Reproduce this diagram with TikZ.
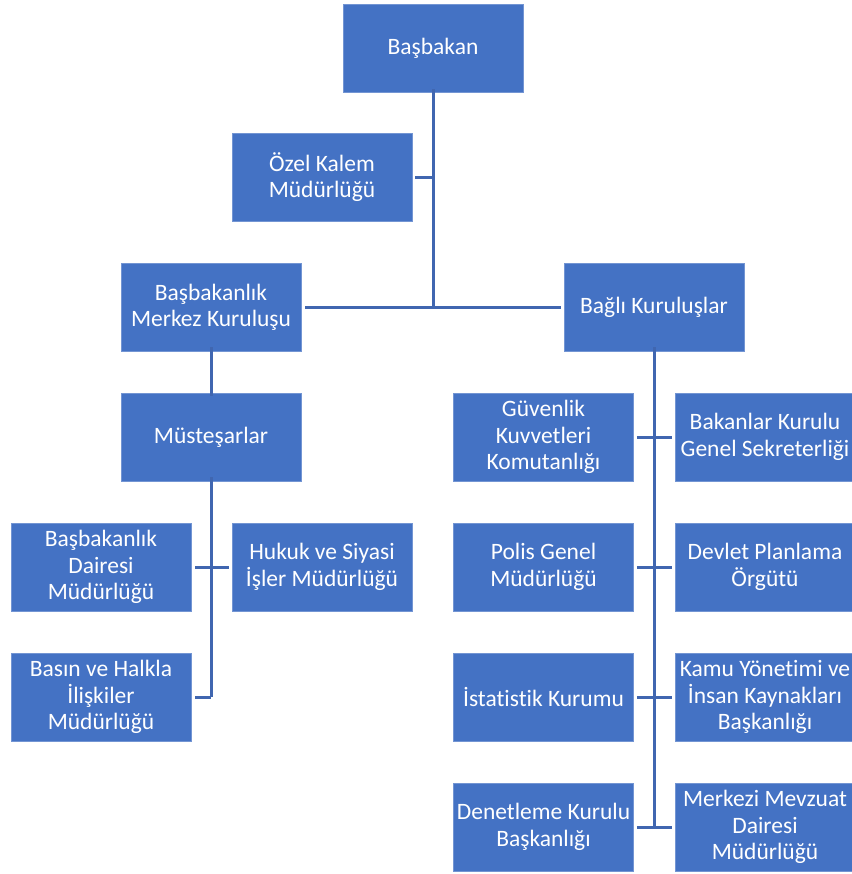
\documentclass[tikz,border=0pt]{standalone}
\usepackage{fontspec}
\setmainfont{Carlito}[Ligatures=NoCommon]
\definecolor{boxblue}{HTML}{4472C4}
\definecolor{lineblue}{HTML}{4066B0}
\tikzset{
  orgbox/.style={rectangle, fill=boxblue, draw=boxblue!75!white, line width=0.6bp,
    minimum width=180bp, minimum height=88bp, inner sep=0pt, text=white, align=center,
    font=\fontsize{23.5bp}{26.3bp}\selectfont},
  conn/.style={draw=lineblue, line width=3bp}
}
\begin{document}
\begin{tikzpicture}[x=1bp,y=-1bp]
\useasboundingbox (0,0) rectangle (852,874);
\clip (0,0) rectangle (852,874);
\fill[white] (0,0) rectangle (852,874);
% nodes (centres)
\node[orgbox] (bas)    at (433,48)  {Başbakan};
\node[orgbox] (ozel)   at (322,177) {Özel Kalem\\Müdürlüğü};
\node[orgbox] (merkez) at (211,307) {Başbakanlık\\Merkez Kuruluşu};
\node[orgbox] (bagli)  at (654,307) {Bağlı Kuruluşlar};
\node[orgbox] (must)   at (211,437) {Müsteşarlar};
\node[orgbox] (bdm)    at (101,567) {Başbakanlık\\Dairesi\\Müdürlüğü};
\node[orgbox] (hukuk)  at (322,567) {Hukuk ve Siyasi\\İşler Müdürlüğü};
\node[orgbox] (basin)  at (101,697) {Basın ve Halkla\\İlişkiler\\Müdürlüğü};
\node[orgbox] (guv)    at (543.5,437) {Güvenlik\\Kuvvetleri\\Komutanlığı};
\node[orgbox] (bak)    at (765,437) {Bakanlar Kurulu\\Genel Sekreterliği};
\node[orgbox] (polis)  at (543.5,567) {Polis Genel\\Müdürlüğü};
\node[orgbox] (dpo)    at (765,567) {Devlet Planlama\\Örgütü};
\node[orgbox] (ist)    at (543.5,697) {İstatistik Kurumu};
\node[orgbox] (kamu)   at (765,697) {Kamu Yönetimi ve\\İnsan Kaynakları\\Başkanlığı};
\node[orgbox] (den)    at (543.5,827) {Denetleme Kurulu\\Başkanlığı};
\node[orgbox] (mevz)   at (765,827) {Merkezi Mevzuat\\Dairesi\\Müdürlüğü};
% connectors
\draw[conn] ([yshift=3]bas.south) -- (bas.south |- merkez.east);
\draw[conn] ([xshift=3]ozel.east) -- (ozel.east -| bas.south);
\draw[conn] ([xshift=4]merkez.east) -- ([xshift=-3]bagli.west);
\draw[conn] ([yshift=4]merkez.south) -- ([yshift=-3]must.north);
\draw[conn] ([yshift=4]must.south) -- (must.south |- basin.east);
\draw[conn] ([xshift=4]bdm.east) -- ([xshift=-3]hukuk.west);
\draw[conn] ([xshift=4]basin.east) -- (basin.east -| must.south);
\draw[conn] ([yshift=4]bagli.south) -- (bagli.south |- den.east);
\draw[conn] ([xshift=3]guv.east) -- ([xshift=-3]bak.west);
\draw[conn] ([xshift=3]polis.east) -- ([xshift=-3]dpo.west);
\draw[conn] ([xshift=3]ist.east) -- ([xshift=-3]kamu.west);
\draw[conn] ([xshift=3]den.east) -- ([xshift=-3]mevz.west);
\end{tikzpicture}
\end{document}
